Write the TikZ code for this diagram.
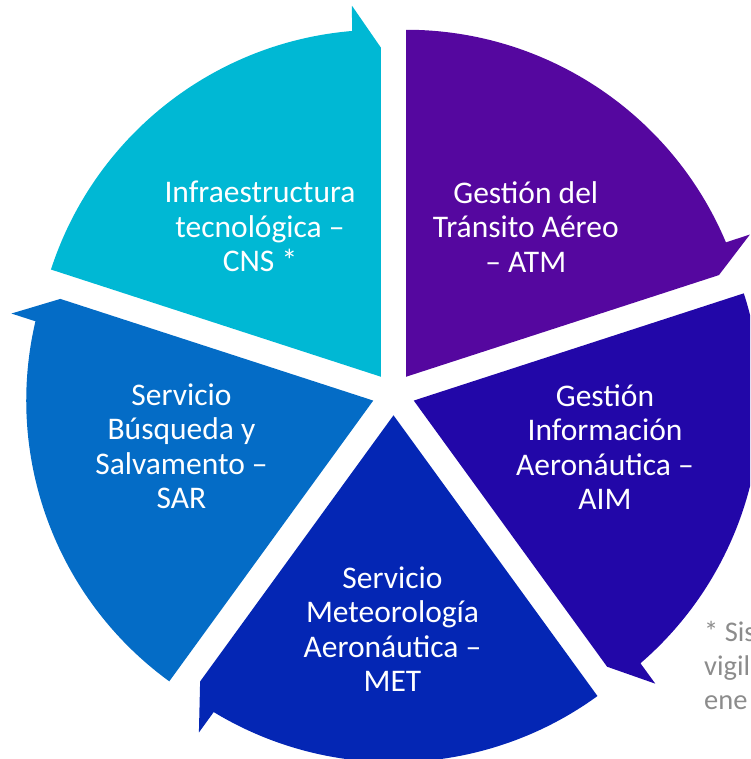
\documentclass[tikz,border=0pt]{standalone}
\usepackage{fontspec}
\setmainfont{Carlito}
\usetikzlibrary{calc}
\definecolor{cnscol}{RGB}{0,184,212}
\definecolor{atmcol}{RGB}{85,7,159}
\definecolor{aimcol}{RGB}{34,7,168}
\definecolor{metcol}{RGB}{4,38,180}
\definecolor{sarcol}{RGB}{4,108,198}
\definecolor{notecol}{RGB}{140,140,140}
\tikzset{
  lbl/.style={text=white, align=center, inner sep=0pt, anchor=base,
    font=\fontsize{31.5}{34.5}\selectfont},
  note/.style={text=notecol, align=left, inner sep=0pt, anchor=base west,
    font=\fontsize{28.5}{34}\selectfont},
}
% #1 start angle (ccw end), #2 colour
\newcommand{\segwedge}[2]{%
  \pgfmathsetmacro{\segend}{#1-72}%
  \pgfmathsetmacro{\segbis}{#1-36}%
  \pgfmathsetmacro{\segarc}{\segend+4.79}%
  \pgfmathsetmacro{\segbarb}{\segend+4.47}%
  \fill[#2, shift={(393.5,365)}, shift={(\segbis:21.3)}]
    (0,0) -- (#1:347) arc[start angle=#1, end angle=\segarc, radius=347pt]
    -- (\segbarb:372.13) -- (\segend:329) -- cycle;
}
\begin{document}
\begin{tikzpicture}[x=1pt,y=1pt]
\useasboundingbox (0,0) rectangle (750,759);
\clip (0,0) rectangle (750,759);
\segwedge{162}{cnscol}
\segwedge{90}{atmcol}
\segwedge{18}{aimcol}
\segwedge{-54}{metcol}
\segwedge{-126}{sarcol}
\node[lbl] (cns) at (260,487) {Infraestructura\\tecnológica –\\CNS *};
\node[lbl] (atm) at (525.8,486.7) {Gestión del\\Tránsito Aéreo\\– ATM};
\node[lbl] (aim) at (605,249) {Gestión\\Información\\Aeronáutica –\\AIM};
\node[lbl] (sar) at (181.5,250) {Servicio\\Búsqueda y\\Salvamento –\\SAR};
\node[lbl] (met) at (392.5,67.3) {Servicio\\Meteorología\\Aeronáutica –\\MET};
\node[note] (fn) at (704,49) {* Sis\\vigil\\ene};
\end{tikzpicture}
\end{document}
